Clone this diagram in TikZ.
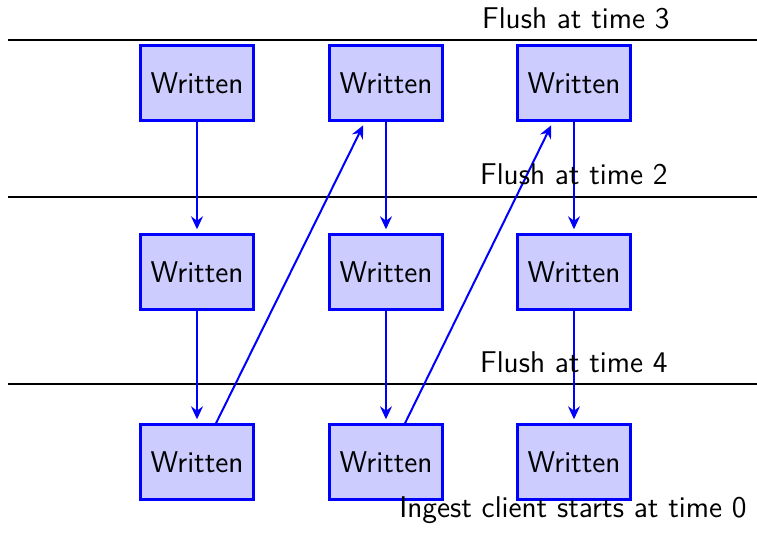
\documentclass[tikz,border=0pt]{standalone}
\usepackage{fontspec}
\usetikzlibrary{arrows.meta}
\begin{document}
\begin{tikzpicture}[x=0.5pt,y=-0.5pt,
  every node/.style={font=\sffamily\fontsize{15}{18}\selectfont},
  box/.style={draw=blue,fill=blue!20,line width=1.2pt,minimum width=56.5pt,minimum height=37.5pt,inner sep=0pt},
  flow/.style={-{Stealth[length=6.5pt,width=6pt,inset=2.2pt]},draw=blue,line width=1pt,shorten >=2pt},
  ruler/.style={draw=black,line width=1.1pt},
  lbl/.style={anchor=base east,inner sep=0pt}]
\useasboundingbox (0,0) rectangle (757,535);

% time rulers
\coordinate (r3a) at (8,40);   \coordinate (r3b) at (757,40);
\coordinate (r2a) at (8,197);  \coordinate (r2b) at (757,197);
\coordinate (r4a) at (8,384);  \coordinate (r4b) at (757,384);
\draw[ruler] (r3a) -- (r3b);
\draw[ruler] (r2a) -- (r2b);
\draw[ruler] (r4a) -- (r4b);

% boxes: three rows, three columns
\node[box] (t1) at (197,83)  {Written};
\node[box] (t2) at (386,83)  {Written};
\node[box] (t3) at (574,83)  {Written};
\node[box] (m1) at (197,272) {Written};
\node[box] (m2) at (386,272) {Written};
\node[box] (m3) at (574,272) {Written};
\node[box] (b1) at (197,462) {Written};
\node[box] (b2) at (386,462) {Written};
\node[box] (b3) at (574,462) {Written};

% vertical flows
\foreach \c in {1,2,3}{
  \draw[flow] (t\c) -- (m\c);
  \draw[flow] (m\c) -- (b\c);
}
% diagonal flows
\draw[flow] ([xshift=9.5pt]b1.north) -- ([xshift=-10.5pt]t2.south);
\draw[flow] ([xshift=9.5pt]b2.north) -- ([xshift=-10.5pt]t3.south);

% labels
\node[lbl] (l3) at (670,29)  {Flush at time 3};
\node[lbl] (l2) at (668,185) {Flush at time 2};
\node[lbl] (l4) at (668,373) {Flush at time 4};
\node[lbl] (l0) at (747,518) {Ingest client starts at time 0};
\end{tikzpicture}
\end{document}
